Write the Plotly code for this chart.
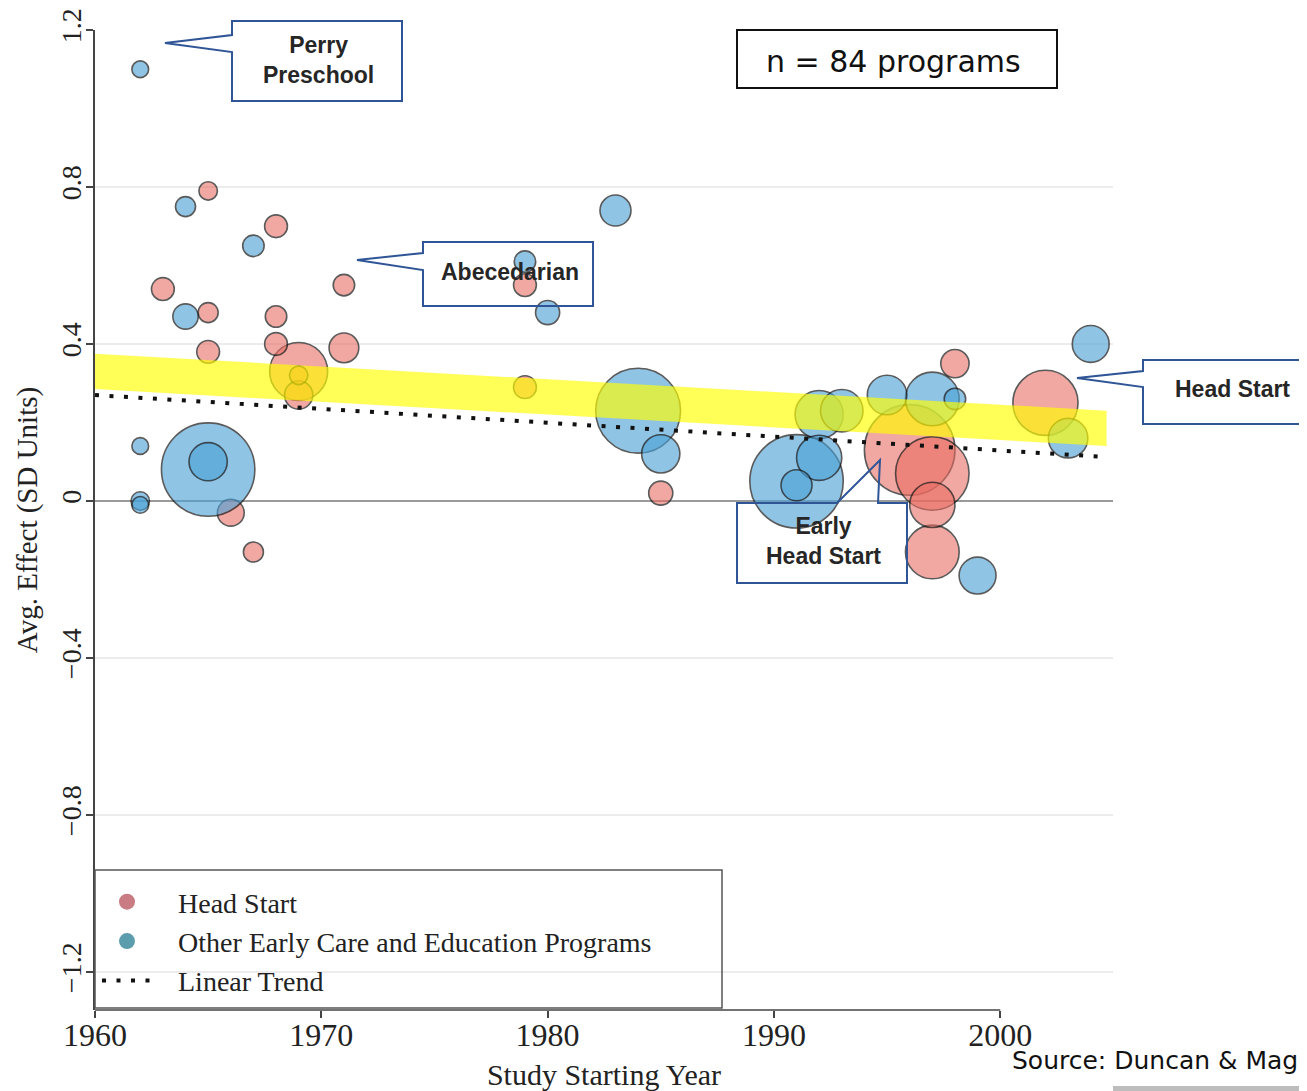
import numpy as np
import plotly.graph_objects as go

# ---------------- data ----------------
hs_year = [1965, 1968, 1963, 1965, 1968, 1971, 1968, 1971, 1965, 1969, 1969, 1969,
           1966, 1967, 1979, 1979, 1985, 1996, 1997, 1997, 1997, 1998, 2002]
hs_effect = [0.79, 0.70, 0.54, 0.48, 0.47, 0.55, 0.40, 0.39, 0.38, 0.33, 0.32, 0.27,
             -0.03, -0.13, 0.55, 0.29, 0.02, 0.13, 0.07, -0.01, -0.13, 0.35, 0.25]
hs_weight = [1.7, 2.6, 2.6, 2.0, 2.3, 2.3, 2.6, 4.4, 2.6, 16.8, 1.7, 4.0,
             3.6, 2.0, 2.6, 2.6, 2.9, 41.0, 27.0, 10.2, 14.4, 4.0, 21.2]

other_year = [1962, 1964, 1967, 1964, 1962, 1965, 1965, 1962, 1962, 1979, 1980, 1983,
              1984, 1985, 1991, 1991, 1992, 1992, 1993, 1995, 1997, 1998, 1999, 2003, 2004]
other_effect = [1.10, 0.75, 0.65, 0.47, 0.14, 0.08, 0.10, 0.00, -0.01, 0.61, 0.48, 0.74,
                0.23, 0.12, 0.05, 0.04, 0.11, 0.22, 0.23, 0.27, 0.26, 0.26, -0.19, 0.16, 0.40]
other_weight = [1.4, 2.0, 2.3, 3.2, 1.4, 43.6, 7.3, 1.7, 1.4, 2.3, 2.9, 4.8,
                36.0, 7.3, 43.6, 4.8, 10.2, 11.6, 9.0, 7.8, 14.4, 2.3, 6.8, 7.8, 6.8]

trend_year = [1960, 2004.7]
trend_effect = [0.270, 0.112]

band_year = [1960, 2004.7]
band_upper = [0.375, 0.230]
band_lower = [0.285, 0.140]

x_tickvals = [1960, 1970, 1980, 1990, 2000]
x_ticktext = ["1960", "1970", "1980", "1990", "2000"]
y_tickvals = [-1.2, -0.8, -0.4, 0, 0.4, 0.8, 1.2]
y_ticktext = ["\u22121.2", "\u22120.8", "\u22120.4", "0", "0.4", "0.8", "1.2"]

# ---------------- geometry ----------------
OFF = 8                      # page margin of the browser
W, H = 1307 - OFF, 1091 - OFF
ML, MR, MT, MB = 95 - OFF, 194, 30 - OFF, 81
PW, PH = W - ML - MR, H - MT - MB


def fx(p):                   # screen pixel x -> paper
    return (p - OFF - ML) / PW


def fy(p):                   # screen pixel y -> paper
    return (H - MB - (p - OFF)) / PH


def path(points):
    s = "M " + " L ".join(f"{fx(a):.5f},{fy(b):.5f}" for a, b in points)
    return s + " Z"


SERIF = "Liberation Serif"
SANS = "Liberation Sans"
BLUE_EDGE = "#2F5597"
HS_COLOR = "rgba(234,108,98,0.84)"
OT_COLOR = "rgba(74,160,214,0.88)"
PAD = "\u00a0\u00a0\u00a0"

fig = go.Figure()

o = np.argsort(-np.array(hs_weight))
fig.add_trace(go.Scatter(
    x=np.array(hs_year)[o], y=np.array(hs_effect)[o], mode="markers",
    name="Head Start", showlegend=False,
    marker=dict(size=np.array(hs_weight)[o], sizemode="area", sizeref=0.01,
                color=HS_COLOR, line=dict(color="#151515", width=1.6)),
))
o2 = np.argsort(-np.array(other_weight))
fig.add_trace(go.Scatter(
    x=np.array(other_year)[o2], y=np.array(other_effect)[o2], mode="markers",
    name="Other Early Care and Education Programs", showlegend=False,
    marker=dict(size=np.array(other_weight)[o2], sizemode="area", sizeref=0.01,
                color=OT_COLOR, line=dict(color="#151515", width=1.6)),
))
# highlighted yellow band
fig.add_trace(go.Scatter(
    x=[band_year[0], band_year[1], band_year[1], band_year[0]],
    y=[band_upper[0], band_upper[1], band_lower[1], band_lower[0]],
    mode="lines", fill="toself", fillcolor="rgba(255,255,0,0.66)",
    line=dict(width=0), showlegend=False, hoverinfo="skip",
))
fig.add_trace(go.Scatter(
    x=trend_year, y=trend_effect, mode="lines", name=PAD + "Linear Trend", legendrank=3,
    line=dict(color="#111111", width=4, dash="4px,10.5px"),
))
# legend entries for the two series (no data of their own)
fig.add_trace(go.Scatter(x=[None], y=[None], mode="markers", name=PAD + "Head Start",
                         legendrank=1, marker=dict(size=20, color="#C97C84")))
fig.add_trace(go.Scatter(x=[None], y=[None], mode="markers",
                         name=PAD + "Other Early Care and Education Programs",
                         legendrank=2, marker=dict(size=20, color="#5B9CAD")))

shapes = []
# x-axis line only over the tick range
shapes.append(dict(type="line", xref="x", yref="paper", x0=x_tickvals[0], x1=x_tickvals[-1],
                   y0=0, y1=0, line=dict(color="#444", width=1.5)))
# legend frame
shapes.append(dict(type="rect", xref="paper", yref="paper", x0=fx(95), x1=fx(722),
                   y0=fy(1008), y1=fy(870), line=dict(color="#555", width=1.5)))
# n box
shapes.append(dict(type="rect", xref="paper", yref="paper", x0=fx(737), x1=fx(1057),
                   y0=fy(88), y1=fy(30), line=dict(color="#111", width=2)))
# callouts
callouts = [
    [(232, 52), (232, 101), (402, 101), (402, 21), (232, 21), (232, 35), (165, 43)],
    [(423, 270), (423, 306), (593, 306), (593, 242), (423, 242), (423, 253), (357, 260)],
    [(1143, 387), (1143, 424), (1330, 424), (1330, 360), (1143, 360), (1143, 371), (1077, 378)],
    [(737, 503), (737, 583), (907, 583), (907, 503), (878, 503), (880, 460), (837, 503)],
]
for pts in callouts:
    shapes.append(dict(type="path", xref="paper", yref="paper", path=path(pts),
                       line=dict(color=BLUE_EDGE, width=2), layer="above"))
# slide artefact
shapes.append(dict(type="rect", xref="paper", yref="paper", x0=fx(1113), x1=fx(1320),
                   y0=fy(1100), y1=fy(1086), line=dict(width=0), fillcolor="#bdbdbd"))

annotations = [
    dict(text="<b>Perry<br>Preschool</b>", x=fx(318), y=fy(60)),
    dict(text="<b>Abecedarian</b>", x=fx(510), y=fy(272)),
    dict(text="<b>Head Start</b>", x=fx(1232), y=fy(389)),
    dict(text="<b>Early<br>Head Start</b>", x=fx(823), y=fy(541)),
]
for a in annotations:
    a.update(xref="paper", yref="paper", showarrow=False, xanchor="center", yanchor="middle",
             font=dict(family=SANS, size=23, color="#262626"))
annotations.append(dict(text="n = 84 programs", x=fx(893), y=fy(61), xref="paper", yref="paper",
                        showarrow=False, xanchor="center", yanchor="middle",
                        font=dict(family="DejaVu Sans", size=30, color="#111")))
annotations.append(dict(text="Source: Duncan & Magnuson", x=fx(1010), y=fy(1060), xref="paper",
                        yref="paper", showarrow=False, xanchor="left", yanchor="middle",
                        font=dict(family="DejaVu Sans", size=25, color="#111")))

fig.update_layout(
    width=W, height=H,
    margin=dict(l=ML, r=MR, t=MT, b=MB, pad=0),
    paper_bgcolor="white", plot_bgcolor="white",
    showlegend=True,
    legend=dict(x=fx(97), y=fy(877), xanchor="left", yanchor="top",
                font=dict(family=SERIF, size=28, color="#222"),
                bgcolor="rgba(0,0,0,0)", borderwidth=0, itemsizing="trace",
                itemwidth=50, tracegroupgap=0),
    shapes=shapes,
    annotations=annotations,
    xaxis=dict(range=[1960, 1960 + PW / 22.63], tickvals=x_tickvals, ticktext=x_ticktext,
               showgrid=False, zeroline=False, showline=False,
               ticks="outside", ticklen=7, tickcolor="#444", tickwidth=1.5,
               ticklabelstandoff=-10,
               tickfont=dict(family=SERIF, size=32, color="#222"),
               title=dict(text="Study Starting Year", font=dict(family=SERIF, size=30, color="#222"),
                          standoff=18),
               automargin=False),
    yaxis=dict(range=[-1.297, 1.2], tickvals=y_tickvals, ticktext=y_ticktext,
               tickangle=-90, showgrid=True, gridcolor="#ececec", gridwidth=1.5,
               zeroline=True, zerolinecolor="#9a9a9a", zerolinewidth=1.5,
               showline=True, linecolor="#444", linewidth=1.5,
               ticks="outside", ticklen=7, tickcolor="#444", tickwidth=1.5,
               ticklabelstandoff=-6,
               tickfont=dict(family=SERIF, size=28, color="#222"),
               title=dict(text="Avg. Effect (SD Units)", font=dict(family=SERIF, size=29, color="#222"),
                          standoff=10),
               automargin=False),
)

fig.write_html("out.html")
